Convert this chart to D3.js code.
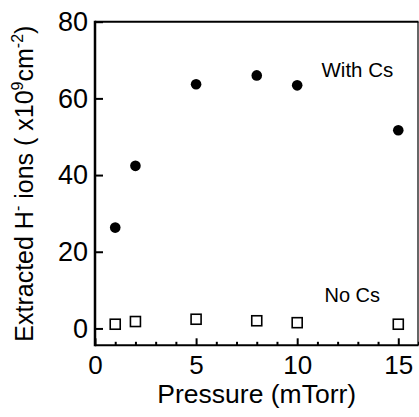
<!DOCTYPE html>
<html>
<head>
<meta charset="utf-8">
<script src="https://cdn.jsdelivr.net/npm/d3@7"></script>
<style>
  html, body { margin: 0; padding: 0; background: #fff; }
  svg { display: block; }
  text { font-family: "Liberation Sans", Arial, Helvetica, sans-serif; fill: #000; }
</style>
</head>
<body>
<svg id="chart" width="419" height="417"></svg>
<script>
// Pressure values (mTorr) at which H- ions were measured
const pressure = [1, 2, 5, 8, 10, 15];
// Extracted H- ions (x10^9 cm^-2)
const withCs = [26.3, 42.4, 63.7, 66.0, 63.4, 51.7];
const noCs = [1.1, 1.8, 2.4, 2.0, 1.5, 1.1];

const xMajorTicks = [0, 5, 10, 15];
const xMinorTicks = [1, 2, 3, 4, 6, 7, 8, 9, 11, 12, 13, 14, 16];
const yTicks = [0, 20, 40, 60, 80];

const seriesLabels = ["With Cs", "No Cs"];

const svg = d3.select("#chart");
const plotLeft = 95, plotRight = 418.5, plotTop = 21.7, plotBottom = 345.3;

const x = d3.scaleLinear().domain([0, 16]).range([plotLeft, plotRight]);
const y = d3.scaleLinear().domain([-4.4, 80]).range([plotBottom, plotTop]);

// x axis: major ticks with labels, minor ticks without
const xAxis = svg.append("g")
  .attr("transform", `translate(0,${plotBottom})`)
  .call(d3.axisBottom(x).tickValues(xMajorTicks).tickSize(-7).tickPadding(10).tickFormat(d3.format("d")));
xAxis.select(".domain").remove();
xAxis.selectAll(".tick line").attr("stroke", "#000").attr("stroke-width", 2);
xAxis.selectAll(".tick text").style("font-size", "26px");

const xMinor = svg.append("g")
  .attr("transform", `translate(0,${plotBottom})`)
  .call(d3.axisBottom(x).tickValues(xMinorTicks).tickSize(-3.5).tickFormat(""));
xMinor.select(".domain").remove();
xMinor.selectAll(".tick line").attr("stroke", "#000").attr("stroke-width", 2);

// y axis
const yAxis = svg.append("g")
  .attr("transform", `translate(${plotLeft},0)`)
  .call(d3.axisLeft(y).tickValues(yTicks).tickSize(-8).tickPadding(7).tickFormat(d3.format("d")));
yAxis.select(".domain").remove();
yAxis.selectAll(".tick line").attr("stroke", "#000").attr("stroke-width", 2);
yAxis.selectAll(".tick text").style("font-size", "27px");

// frame
const frame = svg.append("g").attr("stroke", "#000").attr("fill", "none");
frame.append("line").attr("x1", plotLeft).attr("x2", plotRight).attr("y1", plotTop).attr("y2", plotTop).attr("stroke-width", 2);
frame.append("line").attr("x1", plotLeft).attr("x2", plotLeft).attr("y1", plotTop - 1).attr("y2", plotBottom + 1).attr("stroke-width", 2.5);
frame.append("line").attr("x1", plotLeft).attr("x2", plotRight).attr("y1", plotBottom).attr("y2", plotBottom).attr("stroke-width", 2);
frame.append("line").attr("x1", plotRight - 0.5).attr("x2", plotRight - 0.5).attr("y1", plotTop).attr("y2", plotBottom).attr("stroke-width", 1.2);

// With Cs: filled circles
svg.append("g").selectAll("circle")
  .data(pressure.map((p, i) => ({ p, v: withCs[i] })))
  .join("circle")
  .attr("cx", d => x(d.p))
  .attr("cy", d => y(d.v))
  .attr("r", 5.3)
  .attr("fill", "#000");

// No Cs: open squares
const sq = 10;
svg.append("g").selectAll("rect")
  .data(pressure.map((p, i) => ({ p, v: noCs[i] })))
  .join("rect")
  .attr("x", d => x(d.p) - sq / 2)
  .attr("y", d => y(d.v) - sq / 2)
  .attr("width", sq)
  .attr("height", sq)
  .attr("fill", "#fff")
  .attr("stroke", "#000")
  .attr("stroke-width", 1.6);

// series labels
svg.append("text").attr("x", 321.5).attr("y", 76.7).style("font-size", "20.5px").text(seriesLabels[0]);
svg.append("text").attr("x", 324.5).attr("y", 301.5).style("font-size", "20px").text(seriesLabels[1]);

// axis titles
svg.append("text")
  .attr("x", (plotLeft + plotRight) / 2)
  .attr("y", 402.5)
  .attr("text-anchor", "middle")
  .style("font-size", "26.5px")
  .text("Pressure (mTorr)");

const yTitle = svg.append("text")
  .attr("transform", "translate(33,341.7) rotate(-90)")
  .attr("x", 0).attr("y", 0)
  .style("font-size", "25px");
yTitle.append("tspan").text("Extracted H");
yTitle.append("tspan").attr("dy", -10).style("font-size", "16px").text("-");
yTitle.append("tspan").attr("dy", 10).text(" ions ( x10");
yTitle.append("tspan").attr("dy", -10).style("font-size", "16px").text("9");
yTitle.append("tspan").attr("dy", 10).text("cm");
yTitle.append("tspan").attr("dy", -10).style("font-size", "16px").text("-2");
yTitle.append("tspan").attr("dy", 10).text(")");
</script>
</body>
</html>
